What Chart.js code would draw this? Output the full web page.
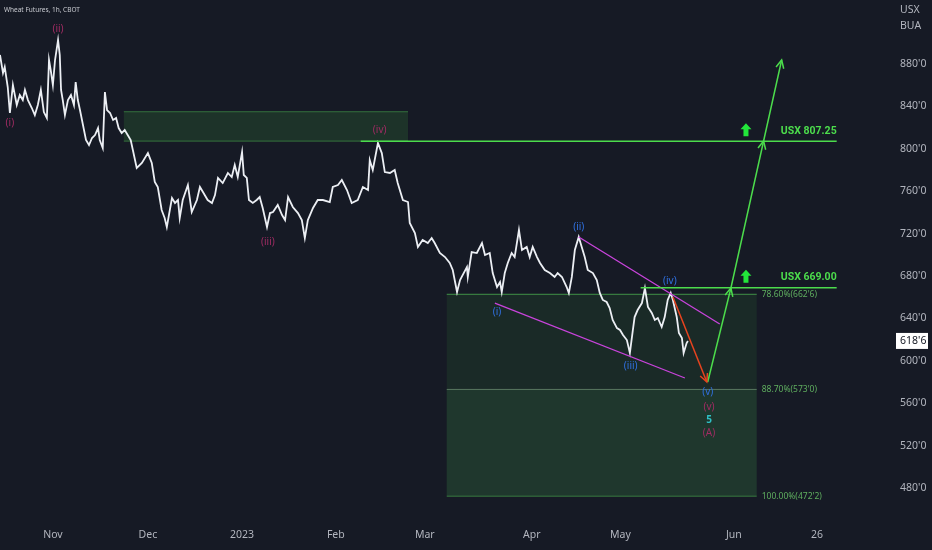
<!DOCTYPE html>
<html>
<head>
<meta charset="utf-8">
<script src="https://cdn.jsdelivr.net/npm/chart.js@4.4.0/dist/chart.umd.min.js"></script>
<style>
  html, body { margin: 0; padding: 0; background: #161a25; }
  canvas { display: block; }
</style>
</head>
<body>
<canvas id="chart" width="932" height="550"></canvas>
<script>
// x is a session index (trading days since 1 Nov 2022), y is price in US cents / bushel
const xTickLabels = ["Nov", "Dec", "2023", "Feb", "Mar", "Apr", "May", "Jun", "26"];
const xTickPos = [0, 22.1, 44.0, 65.8, 86.5, 111.4, 132.0, 158.4, 177.7];
const yTicks = [480, 520, 560, 600, 640, 680, 720, 760, 800, 840, 880];

const priceX = [
  -12.3, -11.6, -11.2, -10.5, -10.0, -9.3, -8.4, -7.7, -7.0, -6.5,
  -5.8, -4.9, -4.2, -3.5, -2.8, -2.1, -1.4, -0.9, -0.5, 0,
  0.5, 1.2, 1.6, 1.9, 2.3, 2.8, 3.5, 4.2, 4.9, 5.3,
  5.8, 6.3, 7.0, 7.7, 8.4, 9.1, 9.8, 10.5, 10.9, 11.6,
  12.1, 12.6, 13.3, 14.0, 14.7, 15.3, 16.0, 16.7, 17.4, 18.1,
  18.6, 19.5, 20.7, 22.1, 23.0, 23.7, 24.4, 25.3, 26.0, 26.5,
  27.2, 27.7, 28.4, 29.1, 29.5, 30.2, 31.4, 32.3, 33.5, 34.2,
  34.9, 36.0, 37.0, 37.7, 38.4, 39.5, 40.7, 41.6, 42.3, 43.0,
  44.0, 44.4, 45.1, 45.6, 46.5, 47.4, 48.1, 48.8, 49.8, 50.5,
  51.2, 52.3, 53.3, 54.0, 54.7, 55.8, 57.0, 57.9, 58.6, 59.3,
  60.5, 61.6, 62.8, 64.4, 65.1, 66.3, 67.2, 68.4, 69.5, 70.9,
  72.1, 73.3, 73.7, 74.4, 75.6, 76.5, 77.2, 78.4, 79.5, 80.2,
  81.4, 82.6, 83.0, 84.2, 84.9, 86.0, 87.2, 88.1, 88.8, 90.0,
  91.2, 92.3, 93.0, 94.0, 94.7, 95.3, 96.3, 96.5, 97.4, 98.6,
  99.8, 100.5, 101.6, 102.3, 103.3, 104.0, 104.4, 105.1, 105.8, 106.7,
  107.4, 108.4, 109.1, 110.2, 110.9, 111.6, 112.6, 113.3, 114.4, 115.6,
  116.7, 117.4, 118.4, 119.5, 120.0, 120.7, 121.4, 122.3, 123.0, 123.7,
  124.4, 125.6, 126.5, 127.2, 127.9, 128.8, 129.5, 130.2, 131.2, 131.9,
  132.6, 133.5, 134.2, 134.9, 135.3, 136.0, 137.0, 137.7, 138.4, 139.3,
  140.0, 140.7, 141.6, 142.3, 143.0, 143.7, 144.2, 145.1, 145.6, 146.3,
  146.7, 147.4, 147.7
];
const priceY = [
  888.5, 871.5, 877.2, 858.3, 833.8, 860.2, 841.3, 850.8, 846.0, 855.5,
  846.0, 838.5, 831.9, 841.3, 855.5, 834.7, 829.1, 883.8, 874.3, 860.2,
  883.8, 902.6, 888.5, 855.5, 846.0, 831.9, 846.0, 850.8, 841.3, 863.0,
  846.0, 836.6, 822.5, 808.3, 803.6, 810.2, 813.0, 819.6, 808.3, 800.8,
  853.6, 836.6, 833.8, 827.2, 829.1, 819.6, 814.9, 817.7, 813.0, 808.3,
  798.9, 781.9, 786.6, 796.0, 786.6, 768.7, 764.0, 742.3, 734.7, 726.2,
  742.3, 753.6, 748.9, 751.7, 734.7, 751.7, 765.8, 740.4, 751.7, 764.0,
  759.2, 751.7, 748.9, 756.4, 772.5, 767.7, 777.2, 773.4, 784.7, 773.4,
  797.0, 775.3, 772.5, 751.7, 748.9, 751.7, 754.5, 744.2, 726.2, 739.4,
  740.4, 747.0, 737.5, 732.8, 754.5, 745.1, 739.4, 732.8, 715.8, 732.8,
  744.2, 751.7, 751.7, 749.8, 764.0, 765.8, 770.6, 761.1, 748.9, 751.7,
  764.0, 761.1, 789.4, 780.0, 805.5, 796.0, 778.1, 777.2, 780.0, 767.7,
  751.7, 749.8, 730.0, 720.6, 707.4, 714.0, 711.1, 715.8, 711.1, 701.7,
  697.9, 692.3, 685.7, 664.9, 676.2, 680.9, 688.5, 679.1, 702.6, 701.7,
  711.1, 699.8, 701.7, 682.8, 669.6, 674.3, 664.9, 682.8, 692.3, 701.7,
  697.9, 723.4, 704.5, 707.4, 697.9, 707.4, 697.9, 692.3, 685.7, 682.8,
  679.1, 682.8, 679.1, 669.6, 664.0, 679.1, 704.5, 716.8, 707.4, 697.9,
  685.7, 682.8, 676.2, 664.0, 657.4, 655.5, 649.8, 638.5, 630.9, 629.1,
  624.3, 619.6, 607.4, 629.1, 641.3, 647.9, 654.5, 668.7, 650.8, 645.1,
  638.5, 640.4, 631.9, 641.3, 657.4, 664.0, 657.4, 641.3, 626.2, 621.5,
  607.4, 616.8, 618.75
];
const lastPrice = 618.75;

// supply zone up top and the fib retracement box below
const supplyZone = [16.5, 82.6, 807.25, 835];
const fibSpan = [91.6, 163.7];
const fibLevels = [662.75, 573, 472.25];
const fibLabels = ["78.60%(662'6)", "88.70%(573'0)", "100.00%(472'2)"];

const targetLevels = [807.25, 669];
const targetStart = [71.6, 136.7];
const targetEnd = 182.3;
const targetLabels = ["USX 807.25", "USX 669.00"];
const targetLabelX = 175.8;
const targetArrowX = 161.2;

const wedgeUpper = [[122.3, 716.8], [155.1, 634.7]];
const wedgeLower = [[102.8, 654.5], [147.0, 583.8]];
const redPath = [[144.2, 660.2], [152.1, 580]];
const greenPath = [[152.3, 580], [157.7, 668.7], [165.3, 807.4], [169.5, 883.8]];

const majorWaves = [["(i)", -10.0, 824.3], ["(ii)", 1.2, 913], ["(iii)", 50.0, 712.1], ["(iv)", 76.0, 817.7], ["(v)", 152.6, 556.4], ["(A)", 152.6, 531.9]];
const minorWaves = [["(i)", 103.3, 646], ["(ii)", 122.3, 726.2], ["(iii)", 134.4, 595.1], ["(iv)", 143.5, 675.3], ["(v)", 152.3, 570.6]];
const cycleWaves = [["5", 152.6, 544.2]];

const GREEN = "#4cdc4c";
const AXIS_TEXT = "#b2b5be";
const FONT = "'Noto Sans', sans-serif";

function fmtPrice(v) {
  const whole = Math.floor(v);
  return whole + "'" + Math.round((v - whole) * 8);
}

function seg(points, color, width) {
  return {
    data: points.map(p => ({ x: p[0], y: p[1] })),
    borderColor: color, borderWidth: width,
    pointRadius: 0, tension: 0, fill: false
  };
}

function arrowHead(ctx, xs, ys, from, to, color) {
  const ax = xs.getPixelForValue(from[0]), ay = ys.getPixelForValue(from[1]);
  const bx = xs.getPixelForValue(to[0]), by = ys.getPixelForValue(to[1]);
  const ang = Math.atan2(by - ay, bx - ax);
  const len = 9;
  ctx.beginPath();
  ctx.moveTo(bx - len * Math.cos(ang - 0.45), by - len * Math.sin(ang - 0.45));
  ctx.lineTo(bx, by);
  ctx.lineTo(bx - len * Math.cos(ang + 0.45), by - len * Math.sin(ang + 0.45));
  ctx.strokeStyle = color;
  ctx.lineWidth = 1.5;
  ctx.stroke();
}

function upArrow(ctx, px, py, color) {
  ctx.beginPath();
  ctx.moveTo(px, py - 7);
  ctx.lineTo(px + 5.5, py - 1);
  ctx.lineTo(px + 2.5, py - 1);
  ctx.lineTo(px + 2.5, py + 6);
  ctx.lineTo(px - 2.5, py + 6);
  ctx.lineTo(px - 2.5, py - 1);
  ctx.lineTo(px - 5.5, py - 1);
  ctx.closePath();
  ctx.fillStyle = color;
  ctx.fill();
}

function label(ctx, xs, ys, items, color, font) {
  ctx.fillStyle = color;
  ctx.font = font;
  ctx.textAlign = "center";
  ctx.textBaseline = "middle";
  items.forEach(w => ctx.fillText(w[0], xs.getPixelForValue(w[1]), ys.getPixelForValue(w[2])));
}

const overlay = {
  id: "overlay",
  beforeDatasetsDraw(chart) {
    const { ctx, scales: { x, y } } = chart;
    ctx.save();
    // supply zone
    const sx0 = x.getPixelForValue(supplyZone[0]), sx1 = x.getPixelForValue(supplyZone[1]);
    const sy0 = y.getPixelForValue(supplyZone[3]), sy1 = y.getPixelForValue(supplyZone[2]);
    ctx.fillStyle = "rgba(56, 142, 60, 0.22)";
    ctx.fillRect(sx0, sy0, sx1 - sx0, sy1 - sy0);
    ctx.strokeStyle = "rgba(76, 175, 80, 0.55)";
    ctx.lineWidth = 1;
    [sy0, sy1].forEach(py => { ctx.beginPath(); ctx.moveTo(sx0, py); ctx.lineTo(sx1, py); ctx.stroke(); });

    // fib box
    const fx0 = x.getPixelForValue(fibSpan[0]), fx1 = x.getPixelForValue(fibSpan[1]);
    const fy = fibLevels.map(v => y.getPixelForValue(v));
    ctx.fillStyle = "rgba(56, 142, 60, 0.14)";
    ctx.fillRect(fx0, fy[0], fx1 - fx0, fy[1] - fy[0]);
    ctx.fillStyle = "rgba(64, 150, 70, 0.24)";
    ctx.fillRect(fx0, fy[1], fx1 - fx0, fy[2] - fy[1]);
    const lineCols = ["rgba(76, 175, 80, 0.8)", "rgba(140, 180, 140, 0.55)", "rgba(76, 175, 80, 0.6)"];
    fy.forEach((py, i) => {
      ctx.strokeStyle = lineCols[i];
      ctx.beginPath(); ctx.moveTo(fx0, py); ctx.lineTo(fx1, py); ctx.stroke();
    });
    ctx.fillStyle = "#5fae5f";
    ctx.font = "8.5px " + FONT;
    ctx.textAlign = "left";
    ctx.textBaseline = "middle";
    fibLabels.forEach((t, i) => ctx.fillText(t, fx1 + 5, fy[i]));
    ctx.restore();
  },
  afterDatasetsDraw(chart) {
    const { ctx, scales: { x, y } } = chart;
    ctx.save();
    arrowHead(ctx, x, y, redPath[0], redPath[1], "#e8441f");
    for (let i = 1; i < greenPath.length; i++) {
      arrowHead(ctx, x, y, greenPath[i - 1], greenPath[i], GREEN);
    }
    targetLevels.forEach((lv, i) => {
      const py = y.getPixelForValue(lv);
      upArrow(ctx, x.getPixelForValue(targetArrowX), py - 11, "#22e63a");
      ctx.fillStyle = GREEN;
      ctx.font = "bold 10.5px Roboto, sans-serif";
      ctx.textAlign = "center";
      ctx.textBaseline = "middle";
      ctx.fillText(targetLabels[i], x.getPixelForValue(targetLabelX), py - 10);
    });
    label(ctx, x, y, majorWaves, "#a02c63", "10px " + FONT);
    label(ctx, x, y, minorWaves, "#3070e0", "10px " + FONT);
    label(ctx, x, y, cycleWaves, "#2fbfc4", "bold 10px " + FONT);

    // title
    ctx.fillStyle = "#c9cbd1";
    ctx.font = "6.5px " + FONT;
    ctx.textAlign = "left";
    ctx.textBaseline = "middle";
    ctx.fillText("Wheat Futures, 1h, CBOT", chart.chartArea.left + 4, chart.chartArea.top + 10);
    ctx.restore();
  },
  afterDraw(chart) {
    const { ctx, scales: { y } } = chart;
    ctx.save();
    ctx.fillStyle = AXIS_TEXT;
    ctx.font = "10.5px " + FONT;
    ctx.textAlign = "left";
    ctx.textBaseline = "middle";
    ctx.fillText("USX", y.left + 10, 10);
    ctx.fillText("BUA", y.left + 10, 26);
    const py = y.getPixelForValue(lastPrice);
    ctx.fillStyle = "#ffffff";
    ctx.fillRect(y.left + 6, py - 8, 32, 16);
    ctx.fillStyle = "#131722";
    ctx.fillText(fmtPrice(lastPrice), y.left + 10, py);
    ctx.restore();
  }
};

new Chart(document.getElementById("chart"), {
  type: "line",
  data: {
    datasets: [
      seg([[targetStart[0], targetLevels[0]], [targetEnd, targetLevels[0]]], GREEN, 1.5),
      seg([[targetStart[1], targetLevels[1]], [targetEnd, targetLevels[1]]], GREEN, 1.5),
      seg(greenPath, GREEN, 1.5),
      seg(redPath, "#e8441f", 1.5),
      seg(wedgeUpper, "#c944dc", 1.3),
      seg(wedgeLower, "#c944dc", 1.3),
      {
        data: priceX.map((v, i) => ({ x: v, y: priceY[i] })),
        borderColor: "#eceff4", borderWidth: 1.8,
        pointRadius: 0, tension: 0, fill: false
      }
    ]
  },
  options: {
    responsive: false,
    animation: false,
    layout: { padding: 0 },
    plugins: { legend: { display: false }, tooltip: { enabled: false } },
    scales: {
      x: {
        type: "linear",
        position: "bottom",
        min: -12.3,
        max: 194.7,
        grid: { display: false, drawTicks: false },
        border: { display: false },
        afterBuildTicks: s => { s.ticks = xTickPos.map(v => ({ value: v })); },
        afterFit: s => { s.height = 32; s.paddingLeft = 0; s.paddingRight = 0; },
        ticks: {
          autoSkip: false, maxRotation: 0, padding: 11,
          color: AXIS_TEXT, font: { family: FONT, size: 10.5 },
          callback: (v, i) => xTickLabels[i]
        }
      },
      y: {
        type: "linear",
        position: "right",
        min: 451.7,
        max: 940.4,
        grid: { display: false, drawTicks: false },
        border: { display: false },
        afterBuildTicks: s => { s.ticks = yTicks.map(v => ({ value: v })); },
        afterFit: s => { s.width = 42; s.paddingTop = 0; s.paddingBottom = 0; },
        ticks: {
          padding: 10,
          color: AXIS_TEXT, font: { family: FONT, size: 10.5 },
          callback: v => fmtPrice(v)
        }
      }
    }
  },
  plugins: [overlay]
});
</script>
</body>
</html>
